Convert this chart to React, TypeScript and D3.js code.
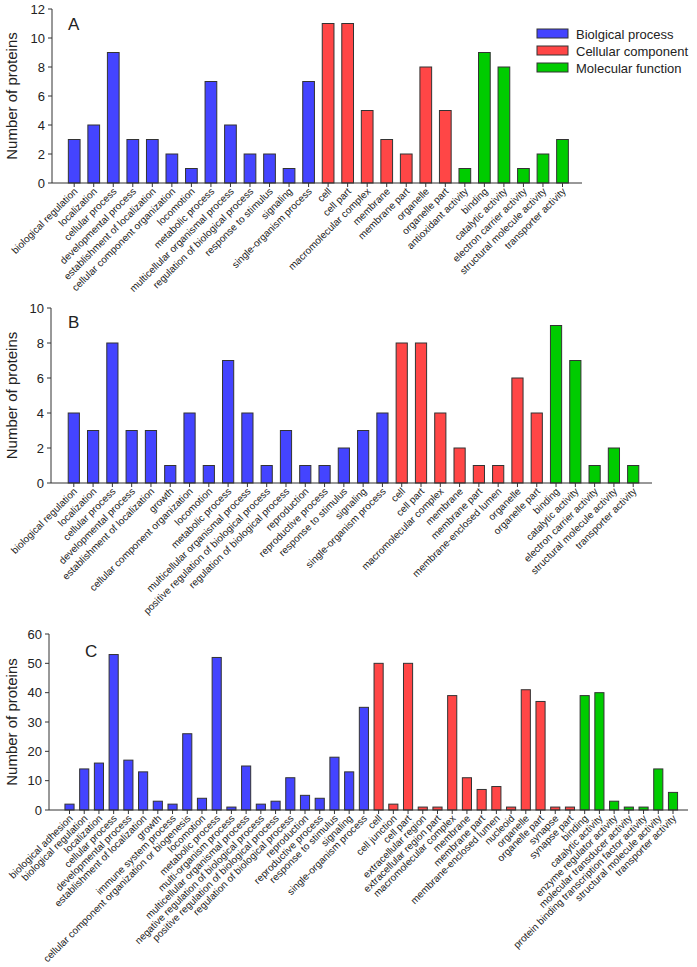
import React from "react";
import * as d3 from "d3";

const BLUE = "#4444FF";
const RED = "#FF4646";
const GREEN = "#00CC00";

// Panel A
const aBP = ["biological regulation", "localization", "cellular process", "developmental process", "establishment of localization", "cellular component organization", "locomotion", "metabolic process", "multicellular organismal process", "regulation of biological process", "response to stimulus", "signaling", "single-organism process"];
const aBPv = [3, 4, 9, 3, 3, 2, 1, 7, 4, 2, 2, 1, 7];
const aCC = ["cell", "cell part", "macromolecular complex", "membrane", "membrane part", "organelle", "organelle part"];
const aCCv = [11, 11, 5, 3, 2, 8, 5];
const aMF = ["antioxidant activity", "binding", "catalytic activity", "electron carrier activity", "structural molecule activity", "transporter activity"];
const aMFv = [1, 9, 8, 1, 2, 3];
const aTicks = [0, 2, 4, 6, 8, 10, 12];

// Panel B
const bBP = ["biological regulation", "localization", "cellular process", "developmental process", "establishment of localization", "growth", "cellular component organization", "locomotion", "metabolic process", "multicellular organismal process", "positive regulation of biological process", "regulation of biological process", "reproduction", "reproductive process", "response to stimulus", "signaling", "single-organism process"];
const bBPv = [4, 3, 8, 3, 3, 1, 4, 1, 7, 4, 1, 3, 1, 1, 2, 3, 4];
const bCC = ["cell", "cell part", "macromolecular complex", "membrane", "membrane part", "membrane-enclosed lumen", "organelle", "organelle part"];
const bCCv = [8, 8, 4, 2, 1, 1, 6, 4];
const bMF = ["binding", "catalytic activity", "electron carrier activity", "structural molecule activity", "transporter activity"];
const bMFv = [9, 7, 1, 2, 1];
const bTicks = [0, 2, 4, 6, 8, 10];

// Panel C
const cBP = ["biological adhesion", "biological regulation", "localization", "cellular process", "developmental process", "establishment of localization", "growth", "immune system process", "cellular component organization or biogenesis", "locomotion", "metabolic process", "multi-organism process", "multicellular organismal process", "negative regulation of biological process", "positive regulation of biological process", "regulation of biological process", "reproduction", "reproductive process", "response to stimulus", "signaling", "single-organism process"];
const cBPv = [2, 14, 16, 53, 17, 13, 3, 2, 26, 4, 52, 1, 15, 2, 3, 11, 5, 4, 18, 13, 35];
const cCC = ["cell", "cell junction", "cell part", "extracellular region", "extracellular region part", "macromolecular complex", "membrane", "membrane part", "membrane-enclosed lumen", "nucleoid", "organelle", "organelle part", "synapse", "synapse part"];
const cCCv = [50, 2, 50, 1, 1, 39, 11, 7, 8, 1, 41, 37, 1, 1];
const cMF = ["binding", "catalytic activity", "enzyme regulator activity", "molecular transducer activity", "protein binding transcription factor activity", "structural molecule activity", "transporter activity"];
const cMFv = [39, 40, 3, 1, 1, 14, 6];
const cTicks = [0, 10, 20, 30, 40, 50, 60];

const legendNames = ["Biolgical process", "Cellular component", "Molecular function"];
const legendColors = [BLUE, RED, GREEN];

type Item = { key: string; label: string; value: number; color: string };

function build(bp: string[], bpv: number[], cc: string[], ccv: number[], mf: string[], mfv: number[]): Item[] {
  const out: Item[] = [];
  bp.forEach((l, i) => out.push({ key: "bp" + i, label: l, value: bpv[i], color: BLUE }));
  cc.forEach((l, i) => out.push({ key: "cc" + i, label: l, value: ccv[i], color: RED }));
  mf.forEach((l, i) => out.push({ key: "mf" + i, label: l, value: mfv[i], color: GREEN }));
  return out;
}

const FONT = "'Liberation Sans', Arial, sans-serif";
const TXT = "#222";
const AX = "#333";

function Panel(props: {
  items: Item[]; ticks: number[]; yTop: number; yBot: number; axisX: number; axisEnd: number;
  firstC: number; lastC: number; pad: number; letter: string; letterX: number; letterY: number;
}) {
  const { items, ticks, yTop, yBot, axisX, axisEnd, firstC, lastC, pad, letter, letterX, letterY } = props;
  const n = items.length;
  const step = (lastC - firstC) / (n - 1);
  const x = d3.scaleBand<string>().domain(items.map(d => d.key)).range([firstC - step / 2, lastC + step / 2]).paddingInner(pad).paddingOuter(pad / 2);
  const y = d3.scaleLinear().domain([ticks[0], ticks[ticks.length - 1]]).range([yBot, yTop]);
  const bw = x.bandwidth();
  return (
    <g>
      {items.map(d => (
        <rect key={d.key} x={x(d.key)!} y={y(d.value)} width={bw} height={yBot - y(d.value)} fill={d.color} stroke="#333" strokeWidth={1} />
      ))}
      <line x1={axisX} x2={axisX} y1={yTop} y2={yBot} stroke={AX} strokeWidth={1} />
      <line x1={axisX} x2={axisEnd} y1={yBot} y2={yBot} stroke={AX} strokeWidth={1} />
      {ticks.map(t => (
        <g key={t}>
          <line x1={axisX - 4} x2={axisX} y1={y(t)} y2={y(t)} stroke={AX} />
          <text x={axisX - 7} y={y(t)} dy="0.36em" textAnchor="end" fontSize={13} fontFamily={FONT} fill={TXT}>{t}</text>
        </g>
      ))}
      {items.map(d => {
        const cx = x(d.key)! + bw / 2;
        return (
          <g key={"t" + d.key}>
            <line x1={cx} x2={cx} y1={yBot} y2={yBot + 4} stroke={AX} />
            <text transform={`translate(${cx + 4},${yBot + 9}) rotate(-45)`} textAnchor="end" fontSize={10} fontFamily={FONT} fill={TXT}>{d.label}</text>
          </g>
        );
      })}
      <text transform={`translate(17,${(yTop + yBot) / 2}) rotate(-90)`} textAnchor="middle" fontSize={15} fontFamily={FONT} fill={TXT}>Number of proteins</text>
      <text x={letterX} y={letterY} fontSize={17} fontFamily={FONT} fill={TXT}>{letter}</text>
    </g>
  );
}

export default function App() {
  const A = build(aBP, aBPv, aCC, aCCv, aMF, aMFv);
  const B = build(bBP, bBPv, bCC, bCCv, bMF, bMFv);
  const C = build(cBP, cBPv, cCC, cCCv, cMF, cMFv);
  return (
    <svg width={697} height={967} style={{ position: "absolute", left: 0, top: 0, background: "#fff" }}>
      <rect width={697} height={967} fill="#fff" />
      <Panel items={A} ticks={aTicks} yTop={9} yBot={183} axisX={52} axisEnd={582} firstC={74.2} lastC={562.5} pad={0.4} letter="A" letterX={68} letterY={30} />
      <Panel items={B} ticks={bTicks} yTop={308} yBot={483} axisX={51} axisEnd={652} firstC={73.8} lastC={633.2} pad={0.42} letter="B" letterX={68} letterY={328} />
      <Panel items={C} ticks={cTicks} yTop={634} yBot={810} axisX={49} axisEnd={688} firstC={69.5} lastC={673} pad={0.38} letter="C" letterX={85} letterY={657} />
      {legendNames.map((nm, i) => (
        <g key={nm}>
          <rect x={537} y={29 + i * 17} width={31} height={9} fill={legendColors[i]} stroke="#333" />
          <text x={576} y={38.5 + i * 17} fontSize={13} fontFamily={FONT} fill={TXT}>{nm}</text>
        </g>
      ))}
    </svg>
  );
}
